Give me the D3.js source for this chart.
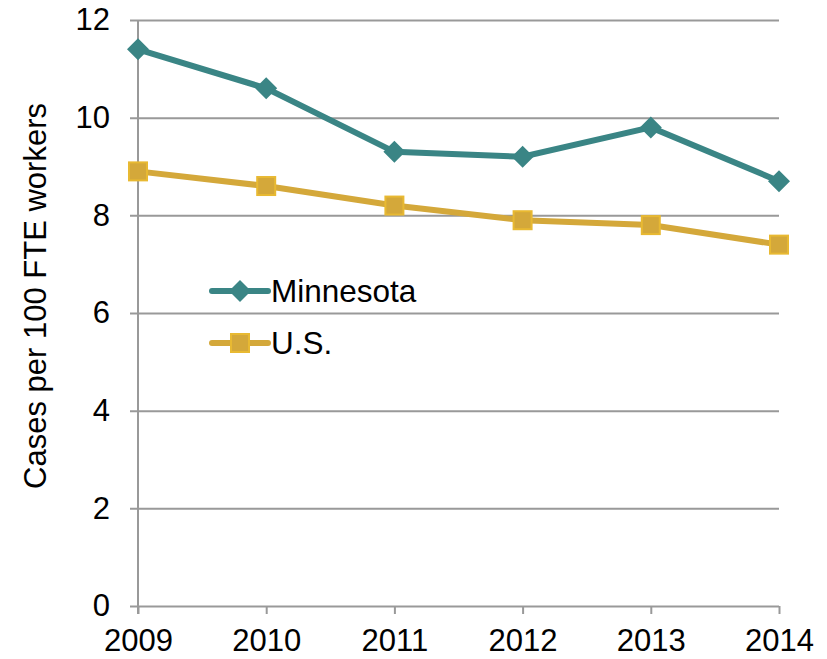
<!DOCTYPE html>
<html>
<head>
<meta charset="utf-8">
<script src="https://cdn.jsdelivr.net/npm/d3@7"></script>
<style>
  body { margin: 0; background: #fff; }
  text { font-family: "Liberation Sans", Arial, sans-serif; fill: #000; }
</style>
</head>
<body>
<div id="chart"></div>
<script>
var years = [2009, 2010, 2011, 2012, 2013, 2014];
var minnesota = [11.4, 10.6, 9.3, 9.2, 9.8, 8.7];
var us = [8.9, 8.6, 8.2, 7.9, 7.8, 7.4];
var yTicks = [0, 2, 4, 6, 8, 10, 12];
var seriesNames = ["Minnesota", "U.S."];

var width = 827, height = 659;
var marginleft = 138, marginright = 48, margintop = 20, marginbottom = 53;
var fontFam = "Liberation Sans, Arial, sans-serif";

var svg = d3.select("#chart").append("svg")
  .attr("width", width)
  .attr("height", height);

var xScale = d3.scalePoint()
  .domain(years)
  .range([marginleft, width - marginright]);

var yScale = d3.scaleLinear()
  .domain([0, 12])
  .range([height - marginbottom, margintop]);

// gridlines + y labels
var yaxis = svg.append("g")
  .attr("transform", "translate(" + marginleft + ",0)")
  .call(d3.axisLeft(yScale).tickValues(yTicks).tickSize(-(width - marginright - marginleft)).tickPadding(28));
yaxis.select(".domain").remove();
yaxis.selectAll("line").attr("stroke", "#999").attr("stroke-width", 2).attr("x1", -8);
yaxis.selectAll("text").attr("font-size", 31).style("font-family", fontFam);

// y axis line
svg.append("line")
  .attr("x1", marginleft).attr("x2", marginleft)
  .attr("y1", yScale(12)).attr("y2", yScale(0) + 8)
  .attr("stroke", "#999").attr("stroke-width", 2);

var xaxis = svg.append("g")
  .attr("transform", "translate(0," + yScale(0) + ")")
  .call(d3.axisBottom(xScale).tickSize(8).tickPadding(15).tickFormat(d3.format("d")));
xaxis.select(".domain").remove();
xaxis.selectAll("line").attr("stroke", "#999").attr("stroke-width", 2);
xaxis.selectAll("text").attr("font-size", 31).style("font-family", fontFam);

svg.append("text")
  .attr("transform", "translate(46,296) rotate(-90)")
  .attr("text-anchor", "middle")
  .attr("font-size", 31)
  .text("Cases per 100 FTE workers");

var line = d3.line()
  .x(function(d, i) { return xScale(years[i]); })
  .y(function(d) { return yScale(d); });

var teal = "#3a8585", gold = "#d4a83a", goldEdge = "#e8b932";

svg.append("path").datum(us)
  .attr("d", line).attr("fill", "none")
  .attr("stroke", gold).attr("stroke-width", 6);
svg.selectAll(".usPt").data(us).enter().append("rect")
  .attr("class", "usPt")
  .attr("x", function(d, i) { return xScale(years[i]) - 9; })
  .attr("y", function(d) { return yScale(d) - 9; })
  .attr("width", 18).attr("height", 18)
  .attr("fill", gold).attr("stroke", goldEdge).attr("stroke-width", 2);

svg.append("path").datum(minnesota)
  .attr("d", line).attr("fill", "none")
  .attr("stroke", teal).attr("stroke-width", 6);
svg.selectAll(".mnPt").data(minnesota).enter().append("path")
  .attr("class", "mnPt")
  .attr("transform", function(d, i) { return "translate(" + xScale(years[i]) + "," + yScale(d) + ")"; })
  .attr("d", "M0,-11L11,0L0,11L-11,0Z")
  .attr("fill", teal);

// legend
var legend = svg.append("g");
var legY = [291, 343];
legend.append("line").attr("x1", 212).attr("x2", 268).attr("y1", legY[0]).attr("y2", legY[0])
  .attr("stroke", teal).attr("stroke-width", 6).attr("stroke-linecap", "round");
legend.append("path").attr("transform", "translate(240," + legY[0] + ")")
  .attr("d", "M0,-11L11,0L0,11L-11,0Z").attr("fill", teal);
legend.append("line").attr("x1", 212).attr("x2", 268).attr("y1", legY[1]).attr("y2", legY[1])
  .attr("stroke", gold).attr("stroke-width", 6).attr("stroke-linecap", "round");
legend.append("rect").attr("x", 231).attr("y", legY[1] - 9).attr("width", 18).attr("height", 18)
  .attr("fill", gold).attr("stroke", goldEdge).attr("stroke-width", 2);
legend.selectAll(".lt").data(seriesNames).enter().append("text")
  .attr("x", 271).attr("y", function(d, i) { return legY[i] + 11; })
  .attr("font-size", 31.5)
  .text(function(d) { return d; });
</script>
</body>
</html>
